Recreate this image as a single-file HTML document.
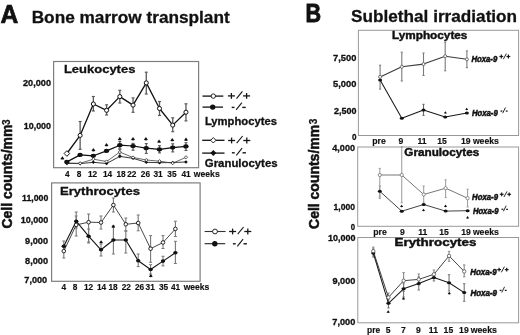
<!DOCTYPE html>
<html><head><meta charset="utf-8"><style>
html,body{margin:0;padding:0;background:#fff;width:520px;height:335px;overflow:hidden}
svg{display:block;will-change:transform}
text{font-family:"Liberation Sans", sans-serif}
</style></head><body>
<svg width="520" height="335" viewBox="0 0 520 335" font-family='"Liberation Sans", sans-serif'>
<rect width="520" height="335" fill="#fff"/>
<text x="0.6" y="22.7" font-size="25" font-weight="bold" text-anchor="start" fill="#111" stroke="#111" stroke-width="0.7" textLength="17.8" lengthAdjust="spacingAndGlyphs">A</text>
<text x="31.7" y="22.6" font-size="17.2" font-weight="bold" text-anchor="start" fill="#111" stroke="#111" stroke-width="0.3" textLength="198.0" lengthAdjust="spacingAndGlyphs">Bone marrow transplant</text>
<text x="305.6" y="21.8" font-size="25.4" font-weight="bold" text-anchor="start" fill="#111" stroke="#111" stroke-width="0.9" textLength="15.6" lengthAdjust="spacingAndGlyphs">B</text>
<text x="351.1" y="22.2" font-size="17.3" font-weight="bold" text-anchor="start" fill="#111" stroke="#111" stroke-width="0.3" textLength="166.0" lengthAdjust="spacingAndGlyphs">Sublethal irradiation</text>
<text transform="translate(12.2,228.6) rotate(-90)" x="0" y="0" font-size="14.4" font-weight="bold" fill="#111" stroke="#111" stroke-width="0.5" textLength="104" lengthAdjust="spacingAndGlyphs">Cell counts/mm</text>
<text transform="translate(9.7,124.89999999999999) rotate(-90)" x="0" y="0" font-size="10" font-weight="bold" fill="#111" stroke="#111" stroke-width="0.25">3</text>
<text transform="translate(319.0,228.9) rotate(-90)" x="0" y="0" font-size="14.4" font-weight="bold" fill="#111" stroke="#111" stroke-width="0.5" textLength="104" lengthAdjust="spacingAndGlyphs">Cell counts/mm</text>
<text transform="translate(316.5,124.30000000000001) rotate(-90)" x="0" y="0" font-size="10" font-weight="bold" fill="#111" stroke="#111" stroke-width="0.25">3</text>
<rect x="53.6" y="61.5" width="145.0" height="106.19999999999999" fill="none" stroke="#7e7e7e" stroke-width="1.2"/>
<text x="63.9" y="72.8" font-size="10.7" font-weight="bold" text-anchor="start" fill="#111" stroke="#111" stroke-width="0.3" textLength="71.5" lengthAdjust="spacingAndGlyphs">Leukocytes</text>
<text x="51" y="86.0" font-size="8.6" font-weight="bold" text-anchor="end" fill="#111" stroke="#111" stroke-width="0.3" textLength="28" lengthAdjust="spacingAndGlyphs">20,000</text>
<text x="51" y="129.1" font-size="8.6" font-weight="bold" text-anchor="end" fill="#111" stroke="#111" stroke-width="0.3" textLength="27.2" lengthAdjust="spacingAndGlyphs">10,000</text>
<text x="67.2" y="177.4" font-size="8.3" font-weight="bold" text-anchor="middle" fill="#111" stroke="#111" stroke-width="0.15">4</text>
<text x="79.0" y="177.4" font-size="8.3" font-weight="bold" text-anchor="middle" fill="#111" stroke="#111" stroke-width="0.15">8</text>
<text x="92.6" y="177.4" font-size="8.3" font-weight="bold" text-anchor="middle" fill="#111" stroke="#111" stroke-width="0.15">12</text>
<text x="107.6" y="177.4" font-size="8.3" font-weight="bold" text-anchor="middle" fill="#111" stroke="#111" stroke-width="0.15">14</text>
<text x="121.1" y="177.4" font-size="8.3" font-weight="bold" text-anchor="middle" fill="#111" stroke="#111" stroke-width="0.15">18</text>
<text x="131.8" y="177.4" font-size="8.3" font-weight="bold" text-anchor="middle" fill="#111" stroke="#111" stroke-width="0.15">22</text>
<text x="145.4" y="177.4" font-size="8.3" font-weight="bold" text-anchor="middle" fill="#111" stroke="#111" stroke-width="0.15">26</text>
<text x="158.0" y="177.4" font-size="8.3" font-weight="bold" text-anchor="middle" fill="#111" stroke="#111" stroke-width="0.15">31</text>
<text x="171.9" y="177.4" font-size="8.3" font-weight="bold" text-anchor="middle" fill="#111" stroke="#111" stroke-width="0.15">35</text>
<text x="186.0" y="177.4" font-size="8.3" font-weight="bold" text-anchor="middle" fill="#111" stroke="#111" stroke-width="0.15">41</text>
<text x="193.8" y="177.4" font-size="8.3" font-weight="bold" text-anchor="start" fill="#111" stroke="#111" stroke-width="0.15" textLength="25.9" lengthAdjust="spacingAndGlyphs">weeks</text>
<line x1="80.13" y1="121.50" x2="80.13" y2="149.30" stroke="#5a5a5a" stroke-width="1.3"/>
<line x1="78.63" y1="121.50" x2="81.63" y2="121.50" stroke="#5a5a5a" stroke-width="1.1700000000000002"/>
<line x1="78.63" y1="149.30" x2="81.63" y2="149.30" stroke="#5a5a5a" stroke-width="1.1700000000000002"/>
<line x1="93.36" y1="96.50" x2="93.36" y2="111.00" stroke="#5a5a5a" stroke-width="1.3"/>
<line x1="91.86" y1="96.50" x2="94.86" y2="96.50" stroke="#5a5a5a" stroke-width="1.1700000000000002"/>
<line x1="91.86" y1="111.00" x2="94.86" y2="111.00" stroke="#5a5a5a" stroke-width="1.1700000000000002"/>
<line x1="106.59" y1="104.80" x2="106.59" y2="115.00" stroke="#5a5a5a" stroke-width="1.3"/>
<line x1="105.09" y1="104.80" x2="108.09" y2="104.80" stroke="#5a5a5a" stroke-width="1.1700000000000002"/>
<line x1="105.09" y1="115.00" x2="108.09" y2="115.00" stroke="#5a5a5a" stroke-width="1.1700000000000002"/>
<line x1="119.82" y1="90.30" x2="119.82" y2="103.00" stroke="#5a5a5a" stroke-width="1.3"/>
<line x1="118.32" y1="90.30" x2="121.32" y2="90.30" stroke="#5a5a5a" stroke-width="1.1700000000000002"/>
<line x1="118.32" y1="103.00" x2="121.32" y2="103.00" stroke="#5a5a5a" stroke-width="1.1700000000000002"/>
<line x1="133.05" y1="97.90" x2="133.05" y2="112.30" stroke="#5a5a5a" stroke-width="1.3"/>
<line x1="131.55" y1="97.90" x2="134.55" y2="97.90" stroke="#5a5a5a" stroke-width="1.1700000000000002"/>
<line x1="131.55" y1="112.30" x2="134.55" y2="112.30" stroke="#5a5a5a" stroke-width="1.1700000000000002"/>
<line x1="146.28" y1="72.20" x2="146.28" y2="94.00" stroke="#5a5a5a" stroke-width="1.3"/>
<line x1="144.78" y1="72.20" x2="147.78" y2="72.20" stroke="#5a5a5a" stroke-width="1.1700000000000002"/>
<line x1="144.78" y1="94.00" x2="147.78" y2="94.00" stroke="#5a5a5a" stroke-width="1.1700000000000002"/>
<line x1="159.51" y1="101.50" x2="159.51" y2="115.50" stroke="#5a5a5a" stroke-width="1.3"/>
<line x1="158.01" y1="101.50" x2="161.01" y2="101.50" stroke="#5a5a5a" stroke-width="1.1700000000000002"/>
<line x1="158.01" y1="115.50" x2="161.01" y2="115.50" stroke="#5a5a5a" stroke-width="1.1700000000000002"/>
<line x1="172.74" y1="117.80" x2="172.74" y2="131.70" stroke="#5a5a5a" stroke-width="1.3"/>
<line x1="171.24" y1="117.80" x2="174.24" y2="117.80" stroke="#5a5a5a" stroke-width="1.1700000000000002"/>
<line x1="171.24" y1="131.70" x2="174.24" y2="131.70" stroke="#5a5a5a" stroke-width="1.1700000000000002"/>
<line x1="185.97" y1="103.80" x2="185.97" y2="120.90" stroke="#5a5a5a" stroke-width="1.3"/>
<line x1="184.47" y1="103.80" x2="187.47" y2="103.80" stroke="#5a5a5a" stroke-width="1.1700000000000002"/>
<line x1="184.47" y1="120.90" x2="187.47" y2="120.90" stroke="#5a5a5a" stroke-width="1.1700000000000002"/>
<line x1="119.82" y1="141.50" x2="119.82" y2="149.40" stroke="#555" stroke-width="1.2"/>
<line x1="118.32" y1="141.50" x2="121.32" y2="141.50" stroke="#555" stroke-width="1.08"/>
<line x1="118.32" y1="149.40" x2="121.32" y2="149.40" stroke="#555" stroke-width="1.08"/>
<line x1="133.05" y1="143.40" x2="133.05" y2="150.20" stroke="#555" stroke-width="1.2"/>
<line x1="131.55" y1="143.40" x2="134.55" y2="143.40" stroke="#555" stroke-width="1.08"/>
<line x1="131.55" y1="150.20" x2="134.55" y2="150.20" stroke="#555" stroke-width="1.08"/>
<line x1="146.28" y1="143.60" x2="146.28" y2="153.40" stroke="#555" stroke-width="1.2"/>
<line x1="144.78" y1="143.60" x2="147.78" y2="143.60" stroke="#555" stroke-width="1.08"/>
<line x1="144.78" y1="153.40" x2="147.78" y2="153.40" stroke="#555" stroke-width="1.08"/>
<line x1="159.51" y1="145.70" x2="159.51" y2="152.90" stroke="#555" stroke-width="1.2"/>
<line x1="158.01" y1="145.70" x2="161.01" y2="145.70" stroke="#555" stroke-width="1.08"/>
<line x1="158.01" y1="152.90" x2="161.01" y2="152.90" stroke="#555" stroke-width="1.08"/>
<line x1="172.74" y1="143.80" x2="172.74" y2="151.90" stroke="#555" stroke-width="1.2"/>
<line x1="171.24" y1="143.80" x2="174.24" y2="143.80" stroke="#555" stroke-width="1.08"/>
<line x1="171.24" y1="151.90" x2="174.24" y2="151.90" stroke="#555" stroke-width="1.08"/>
<line x1="185.97" y1="142.70" x2="185.97" y2="150.50" stroke="#555" stroke-width="1.2"/>
<line x1="184.47" y1="142.70" x2="187.47" y2="142.70" stroke="#555" stroke-width="1.08"/>
<line x1="184.47" y1="150.50" x2="187.47" y2="150.50" stroke="#555" stroke-width="1.08"/>
<line x1="119.82" y1="148.60" x2="119.82" y2="155.60" stroke="#777" stroke-width="1.35"/>
<line x1="118.32" y1="148.60" x2="121.32" y2="148.60" stroke="#777" stroke-width="1.215"/>
<line x1="118.32" y1="155.60" x2="121.32" y2="155.60" stroke="#777" stroke-width="1.215"/>
<polyline points="66.90,163.40 80.13,163.60 93.36,162.30 106.59,163.50 119.82,156.40 133.05,158.30 146.28,162.30 159.51,162.70 172.74,162.50 185.97,162.00" fill="none" stroke="#222" stroke-width="0.9" stroke-linejoin="round"/>
<polyline points="66.90,163.00 80.13,163.30 93.36,159.20 106.59,161.50 119.82,152.10 133.05,157.50 146.28,160.00 159.51,161.20 172.74,163.20 185.97,157.30" fill="none" stroke="#444" stroke-width="0.8" stroke-linejoin="round"/>
<polyline points="66.90,161.90 80.13,154.90 93.36,155.80 106.59,150.90 119.82,145.20 133.05,146.00 146.28,148.20 159.51,149.40 172.74,147.60 185.97,146.40" fill="none" stroke="#111" stroke-width="1.2" stroke-linejoin="round"/>
<polyline points="66.90,153.50 80.13,135.40 93.36,104.00 106.59,110.30 119.82,96.60 133.05,105.10 146.28,82.90 159.51,108.50 172.74,125.10 185.97,112.20" fill="none" stroke="#111" stroke-width="1.3" stroke-linejoin="round"/>
<polygon points="66.90,161.60 68.70,163.40 66.90,165.20 65.10,163.40" fill="#111"/>
<polygon points="66.90,161.40 68.50,163.00 66.90,164.60 65.30,163.00" fill="#fff" stroke="#111" stroke-width="0.7"/>
<polygon points="80.13,161.80 81.93,163.60 80.13,165.40 78.33,163.60" fill="#111"/>
<polygon points="80.13,161.70 81.73,163.30 80.13,164.90 78.53,163.30" fill="#fff" stroke="#111" stroke-width="0.7"/>
<polygon points="93.36,160.50 95.16,162.30 93.36,164.10 91.56,162.30" fill="#111"/>
<polygon points="93.36,157.60 94.96,159.20 93.36,160.80 91.76,159.20" fill="#fff" stroke="#111" stroke-width="0.7"/>
<polygon points="106.59,161.70 108.39,163.50 106.59,165.30 104.79,163.50" fill="#111"/>
<polygon points="106.59,159.90 108.19,161.50 106.59,163.10 104.99,161.50" fill="#fff" stroke="#111" stroke-width="0.7"/>
<polygon points="119.82,154.60 121.62,156.40 119.82,158.20 118.02,156.40" fill="#111"/>
<polygon points="119.82,150.50 121.42,152.10 119.82,153.70 118.22,152.10" fill="#fff" stroke="#111" stroke-width="0.7"/>
<polygon points="133.05,156.50 134.85,158.30 133.05,160.10 131.25,158.30" fill="#111"/>
<polygon points="133.05,155.90 134.65,157.50 133.05,159.10 131.45,157.50" fill="#fff" stroke="#111" stroke-width="0.7"/>
<polygon points="146.28,160.50 148.08,162.30 146.28,164.10 144.48,162.30" fill="#111"/>
<polygon points="146.28,158.40 147.88,160.00 146.28,161.60 144.68,160.00" fill="#fff" stroke="#111" stroke-width="0.7"/>
<polygon points="159.51,160.90 161.31,162.70 159.51,164.50 157.71,162.70" fill="#111"/>
<polygon points="159.51,159.60 161.11,161.20 159.51,162.80 157.91,161.20" fill="#fff" stroke="#111" stroke-width="0.7"/>
<polygon points="172.74,160.70 174.54,162.50 172.74,164.30 170.94,162.50" fill="#111"/>
<polygon points="172.74,161.60 174.34,163.20 172.74,164.80 171.14,163.20" fill="#fff" stroke="#111" stroke-width="0.7"/>
<polygon points="185.97,160.20 187.77,162.00 185.97,163.80 184.17,162.00" fill="#111"/>
<polygon points="185.97,155.70 187.57,157.30 185.97,158.90 184.37,157.30" fill="#fff" stroke="#111" stroke-width="0.7"/>
<ellipse cx="66.90" cy="161.90" rx="2.7" ry="2.1" fill="#111"/>
<ellipse cx="80.13" cy="154.90" rx="2.7" ry="2.1" fill="#111"/>
<ellipse cx="93.36" cy="155.80" rx="2.7" ry="2.1" fill="#111"/>
<ellipse cx="106.59" cy="150.90" rx="2.7" ry="2.1" fill="#111"/>
<ellipse cx="119.82" cy="145.20" rx="2.7" ry="2.1" fill="#111"/>
<ellipse cx="133.05" cy="146.00" rx="2.7" ry="2.1" fill="#111"/>
<ellipse cx="146.28" cy="148.20" rx="2.7" ry="2.1" fill="#111"/>
<ellipse cx="159.51" cy="149.40" rx="2.7" ry="2.1" fill="#111"/>
<ellipse cx="172.74" cy="147.60" rx="2.7" ry="2.1" fill="#111"/>
<ellipse cx="185.97" cy="146.40" rx="2.7" ry="2.1" fill="#111"/>
<polygon points="66.90,150.70 69.70,153.50 66.90,156.30 64.10,153.50" fill="#fff" stroke="#111" stroke-width="1.0"/>
<ellipse cx="80.13" cy="135.40" rx="2.05" ry="2.05" fill="#fff" stroke="#111" stroke-width="1.0"/>
<ellipse cx="93.36" cy="104.00" rx="2.05" ry="2.05" fill="#fff" stroke="#111" stroke-width="1.0"/>
<ellipse cx="106.59" cy="110.30" rx="2.05" ry="2.05" fill="#fff" stroke="#111" stroke-width="1.0"/>
<ellipse cx="119.82" cy="96.60" rx="2.05" ry="2.05" fill="#fff" stroke="#111" stroke-width="1.0"/>
<ellipse cx="133.05" cy="105.10" rx="2.05" ry="2.05" fill="#fff" stroke="#111" stroke-width="1.0"/>
<ellipse cx="146.28" cy="82.90" rx="2.05" ry="2.05" fill="#fff" stroke="#111" stroke-width="1.0"/>
<ellipse cx="159.51" cy="108.50" rx="2.05" ry="2.05" fill="#fff" stroke="#111" stroke-width="1.0"/>
<ellipse cx="172.74" cy="125.10" rx="2.05" ry="2.05" fill="#fff" stroke="#111" stroke-width="1.0"/>
<ellipse cx="185.97" cy="112.20" rx="2.05" ry="2.05" fill="#fff" stroke="#111" stroke-width="1.0"/>
<path d="M62.40,156.28 L64.36,159.03 Q62.40,160.19 60.45,159.03 Z" fill="#111"/>
<path d="M93.40,148.08 L95.36,150.84 Q93.40,151.99 91.45,150.84 Z" fill="#111"/>
<path d="M106.50,142.97 L108.45,145.73 Q106.50,146.88 104.55,145.73 Z" fill="#111"/>
<path d="M119.80,136.88 L121.75,139.63 Q119.80,140.78 117.84,139.63 Z" fill="#111"/>
<path d="M133.00,137.08 L134.96,139.84 Q133.00,140.99 131.04,139.84 Z" fill="#111"/>
<path d="M145.90,137.08 L147.86,139.84 Q145.90,140.99 143.94,139.84 Z" fill="#111"/>
<path d="M159.10,139.38 L161.06,142.13 Q159.10,143.28 157.14,142.13 Z" fill="#111"/>
<path d="M172.30,137.97 L174.26,140.73 Q172.30,141.88 170.34,140.73 Z" fill="#111"/>
<path d="M186.00,137.58 L187.96,140.34 Q186.00,141.49 184.04,140.34 Z" fill="#111"/>
<line x1="202.50" y1="96.10" x2="223.30" y2="96.10" stroke="#111" stroke-width="1.3"/>
<ellipse cx="213.30" cy="96.10" rx="2.2" ry="2.2" fill="#fff" stroke="#111" stroke-width="0.9"/>
<line x1="202.50" y1="107.10" x2="223.00" y2="107.10" stroke="#111" stroke-width="1.3"/>
<ellipse cx="212.70" cy="107.10" rx="2.7" ry="2.7" fill="#111"/>
<line x1="227.90" y1="95.90" x2="234.90" y2="95.90" stroke="#151515" stroke-width="1.3"/>
<line x1="231.40" y1="93.00" x2="231.40" y2="98.80" stroke="#151515" stroke-width="1.3"/>
<line x1="243.10" y1="95.90" x2="250.10" y2="95.90" stroke="#151515" stroke-width="1.3"/>
<line x1="246.60" y1="93.00" x2="246.60" y2="98.80" stroke="#151515" stroke-width="1.3"/>
<line x1="236.50" y1="98.60" x2="242.40" y2="91.40" stroke="#151515" stroke-width="1.1"/>
<line x1="231.70" y1="107.40" x2="234.50" y2="107.40" stroke="#151515" stroke-width="1.4"/>
<line x1="242.30" y1="107.40" x2="245.70" y2="107.40" stroke="#151515" stroke-width="1.4"/>
<line x1="236.10" y1="109.90" x2="241.90" y2="102.70" stroke="#151515" stroke-width="1.1"/>
<text x="204.9" y="125.0" font-size="10.8" font-weight="bold" text-anchor="start" fill="#111" stroke="#111" stroke-width="0.3" textLength="72.0" lengthAdjust="spacingAndGlyphs">Lymphocytes</text>
<line x1="202.20" y1="140.30" x2="224.50" y2="140.30" stroke="#111" stroke-width="1.3"/>
<polygon points="213.30,137.60 216.00,140.30 213.30,143.00 210.60,140.30" fill="#fff" stroke="#111" stroke-width="0.9"/>
<line x1="202.20" y1="153.10" x2="224.50" y2="153.10" stroke="#111" stroke-width="1.3"/>
<polygon points="213.30,150.10 216.30,153.10 213.30,156.10 210.30,153.10" fill="#111"/>
<line x1="228.10" y1="140.50" x2="235.10" y2="140.50" stroke="#151515" stroke-width="1.3"/>
<line x1="231.60" y1="137.60" x2="231.60" y2="143.40" stroke="#151515" stroke-width="1.3"/>
<line x1="243.30" y1="140.50" x2="250.30" y2="140.50" stroke="#151515" stroke-width="1.3"/>
<line x1="246.80" y1="137.60" x2="246.80" y2="143.40" stroke="#151515" stroke-width="1.3"/>
<line x1="236.70" y1="143.20" x2="242.60" y2="136.00" stroke="#151515" stroke-width="1.1"/>
<line x1="231.90" y1="152.80" x2="234.70" y2="152.80" stroke="#151515" stroke-width="1.4"/>
<line x1="242.50" y1="152.80" x2="245.90" y2="152.80" stroke="#151515" stroke-width="1.4"/>
<line x1="236.30" y1="155.30" x2="242.10" y2="148.10" stroke="#151515" stroke-width="1.1"/>
<text x="204.8" y="166.8" font-size="10.8" font-weight="bold" text-anchor="start" fill="#111" stroke="#111" stroke-width="0.3" textLength="72.8" lengthAdjust="spacingAndGlyphs">Granulocytes</text>
<rect x="51.6" y="182.9" width="148.5" height="98.4" fill="none" stroke="#7e7e7e" stroke-width="1.2"/>
<text x="59.9" y="194.7" font-size="10.9" font-weight="bold" text-anchor="start" fill="#111" stroke="#111" stroke-width="0.3" textLength="80.2" lengthAdjust="spacingAndGlyphs">Erythrocytes</text>
<text x="48.3" y="200.6" font-size="8.6" font-weight="bold" text-anchor="end" fill="#111" stroke="#111" stroke-width="0.3" textLength="26.3" lengthAdjust="spacingAndGlyphs">11,000</text>
<text x="48.3" y="223.2" font-size="8.6" font-weight="bold" text-anchor="end" fill="#111" stroke="#111" stroke-width="0.3" textLength="27.6" lengthAdjust="spacingAndGlyphs">10,000</text>
<text x="48.1" y="243.79999999999998" font-size="8.6" font-weight="bold" text-anchor="end" fill="#111" stroke="#111" stroke-width="0.3" textLength="23.0" lengthAdjust="spacingAndGlyphs">9,000</text>
<text x="48.1" y="264.1" font-size="8.6" font-weight="bold" text-anchor="end" fill="#111" stroke="#111" stroke-width="0.3" textLength="23.0" lengthAdjust="spacingAndGlyphs">8,000</text>
<text x="47.2" y="283.3" font-size="8.6" font-weight="bold" text-anchor="end" fill="#111" stroke="#111" stroke-width="0.3" textLength="22.9" lengthAdjust="spacingAndGlyphs">7,000</text>
<text x="63.9" y="290.1" font-size="8.3" font-weight="bold" text-anchor="middle" fill="#111" stroke="#111" stroke-width="0.15">4</text>
<text x="75.0" y="290.1" font-size="8.3" font-weight="bold" text-anchor="middle" fill="#111" stroke="#111" stroke-width="0.15">8</text>
<text x="88.5" y="290.1" font-size="8.3" font-weight="bold" text-anchor="middle" fill="#111" stroke="#111" stroke-width="0.15">12</text>
<text x="101.5" y="290.1" font-size="8.3" font-weight="bold" text-anchor="middle" fill="#111" stroke="#111" stroke-width="0.15">14</text>
<text x="113.1" y="290.1" font-size="8.3" font-weight="bold" text-anchor="middle" fill="#111" stroke="#111" stroke-width="0.15">18</text>
<text x="126.3" y="290.1" font-size="8.3" font-weight="bold" text-anchor="middle" fill="#111" stroke="#111" stroke-width="0.15">22</text>
<text x="139.6" y="290.1" font-size="8.3" font-weight="bold" text-anchor="middle" fill="#111" stroke="#111" stroke-width="0.15">26</text>
<text x="150.2" y="290.1" font-size="8.3" font-weight="bold" text-anchor="middle" fill="#111" stroke="#111" stroke-width="0.15">31</text>
<text x="163.6" y="290.1" font-size="8.3" font-weight="bold" text-anchor="middle" fill="#111" stroke="#111" stroke-width="0.15">35</text>
<text x="175.6" y="290.1" font-size="8.3" font-weight="bold" text-anchor="middle" fill="#111" stroke="#111" stroke-width="0.15">41</text>
<text x="183.7" y="290.1" font-size="8.3" font-weight="bold" text-anchor="start" fill="#111" stroke="#111" stroke-width="0.15" textLength="25.7" lengthAdjust="spacingAndGlyphs">weeks</text>
<line x1="63.80" y1="246.00" x2="63.80" y2="258.00" stroke="#777" stroke-width="1.1"/>
<line x1="62.30" y1="246.00" x2="65.30" y2="246.00" stroke="#777" stroke-width="0.9900000000000001"/>
<line x1="62.30" y1="258.00" x2="65.30" y2="258.00" stroke="#777" stroke-width="0.9900000000000001"/>
<line x1="63.80" y1="241.00" x2="63.80" y2="251.00" stroke="#777" stroke-width="1.1"/>
<line x1="62.30" y1="241.00" x2="65.30" y2="241.00" stroke="#777" stroke-width="0.9900000000000001"/>
<line x1="62.30" y1="251.00" x2="65.30" y2="251.00" stroke="#777" stroke-width="0.9900000000000001"/>
<line x1="76.20" y1="216.00" x2="76.20" y2="236.00" stroke="#777" stroke-width="1.1"/>
<line x1="74.70" y1="216.00" x2="77.70" y2="216.00" stroke="#777" stroke-width="0.9900000000000001"/>
<line x1="74.70" y1="236.00" x2="77.70" y2="236.00" stroke="#777" stroke-width="0.9900000000000001"/>
<line x1="76.20" y1="212.00" x2="76.20" y2="228.00" stroke="#777" stroke-width="1.1"/>
<line x1="74.70" y1="212.00" x2="77.70" y2="212.00" stroke="#777" stroke-width="0.9900000000000001"/>
<line x1="74.70" y1="228.00" x2="77.70" y2="228.00" stroke="#777" stroke-width="0.9900000000000001"/>
<line x1="88.60" y1="214.00" x2="88.60" y2="242.00" stroke="#777" stroke-width="1.1"/>
<line x1="87.10" y1="214.00" x2="90.10" y2="214.00" stroke="#777" stroke-width="0.9900000000000001"/>
<line x1="87.10" y1="242.00" x2="90.10" y2="242.00" stroke="#777" stroke-width="0.9900000000000001"/>
<line x1="88.60" y1="229.00" x2="88.60" y2="243.00" stroke="#777" stroke-width="1.1"/>
<line x1="87.10" y1="229.00" x2="90.10" y2="229.00" stroke="#777" stroke-width="0.9900000000000001"/>
<line x1="87.10" y1="243.00" x2="90.10" y2="243.00" stroke="#777" stroke-width="0.9900000000000001"/>
<line x1="101.00" y1="216.00" x2="101.00" y2="229.00" stroke="#777" stroke-width="1.1"/>
<line x1="99.50" y1="216.00" x2="102.50" y2="216.00" stroke="#777" stroke-width="0.9900000000000001"/>
<line x1="99.50" y1="229.00" x2="102.50" y2="229.00" stroke="#777" stroke-width="0.9900000000000001"/>
<line x1="101.00" y1="244.00" x2="101.00" y2="256.00" stroke="#777" stroke-width="1.1"/>
<line x1="99.50" y1="244.00" x2="102.50" y2="244.00" stroke="#777" stroke-width="0.9900000000000001"/>
<line x1="99.50" y1="256.00" x2="102.50" y2="256.00" stroke="#777" stroke-width="0.9900000000000001"/>
<line x1="113.40" y1="198.00" x2="113.40" y2="212.00" stroke="#777" stroke-width="1.1"/>
<line x1="111.90" y1="198.00" x2="114.90" y2="198.00" stroke="#777" stroke-width="0.9900000000000001"/>
<line x1="111.90" y1="212.00" x2="114.90" y2="212.00" stroke="#777" stroke-width="0.9900000000000001"/>
<line x1="113.40" y1="226.00" x2="113.40" y2="254.00" stroke="#777" stroke-width="1.1"/>
<line x1="111.90" y1="226.00" x2="114.90" y2="226.00" stroke="#777" stroke-width="0.9900000000000001"/>
<line x1="111.90" y1="254.00" x2="114.90" y2="254.00" stroke="#777" stroke-width="0.9900000000000001"/>
<line x1="125.80" y1="218.00" x2="125.80" y2="231.00" stroke="#777" stroke-width="1.1"/>
<line x1="124.30" y1="218.00" x2="127.30" y2="218.00" stroke="#777" stroke-width="0.9900000000000001"/>
<line x1="124.30" y1="231.00" x2="127.30" y2="231.00" stroke="#777" stroke-width="0.9900000000000001"/>
<line x1="125.80" y1="231.00" x2="125.80" y2="253.00" stroke="#777" stroke-width="1.1"/>
<line x1="124.30" y1="231.00" x2="127.30" y2="231.00" stroke="#777" stroke-width="0.9900000000000001"/>
<line x1="124.30" y1="253.00" x2="127.30" y2="253.00" stroke="#777" stroke-width="0.9900000000000001"/>
<line x1="138.20" y1="215.00" x2="138.20" y2="230.80" stroke="#777" stroke-width="1.1"/>
<line x1="136.70" y1="215.00" x2="139.70" y2="215.00" stroke="#777" stroke-width="0.9900000000000001"/>
<line x1="136.70" y1="230.80" x2="139.70" y2="230.80" stroke="#777" stroke-width="0.9900000000000001"/>
<line x1="138.20" y1="254.00" x2="138.20" y2="266.60" stroke="#777" stroke-width="1.1"/>
<line x1="136.70" y1="254.00" x2="139.70" y2="254.00" stroke="#777" stroke-width="0.9900000000000001"/>
<line x1="136.70" y1="266.60" x2="139.70" y2="266.60" stroke="#777" stroke-width="0.9900000000000001"/>
<line x1="150.60" y1="235.60" x2="150.60" y2="262.30" stroke="#777" stroke-width="1.1"/>
<line x1="149.10" y1="235.60" x2="152.10" y2="235.60" stroke="#777" stroke-width="0.9900000000000001"/>
<line x1="149.10" y1="262.30" x2="152.10" y2="262.30" stroke="#777" stroke-width="0.9900000000000001"/>
<line x1="150.60" y1="264.70" x2="150.60" y2="274.00" stroke="#777" stroke-width="1.1"/>
<line x1="149.10" y1="264.70" x2="152.10" y2="264.70" stroke="#777" stroke-width="0.9900000000000001"/>
<line x1="149.10" y1="274.00" x2="152.10" y2="274.00" stroke="#777" stroke-width="0.9900000000000001"/>
<line x1="163.00" y1="235.60" x2="163.00" y2="248.50" stroke="#777" stroke-width="1.1"/>
<line x1="161.50" y1="235.60" x2="164.50" y2="235.60" stroke="#777" stroke-width="0.9900000000000001"/>
<line x1="161.50" y1="248.50" x2="164.50" y2="248.50" stroke="#777" stroke-width="0.9900000000000001"/>
<line x1="163.00" y1="256.30" x2="163.00" y2="265.90" stroke="#777" stroke-width="1.1"/>
<line x1="161.50" y1="256.30" x2="164.50" y2="256.30" stroke="#777" stroke-width="0.9900000000000001"/>
<line x1="161.50" y1="265.90" x2="164.50" y2="265.90" stroke="#777" stroke-width="0.9900000000000001"/>
<line x1="175.40" y1="221.20" x2="175.40" y2="236.50" stroke="#777" stroke-width="1.1"/>
<line x1="173.90" y1="221.20" x2="176.90" y2="221.20" stroke="#777" stroke-width="0.9900000000000001"/>
<line x1="173.90" y1="236.50" x2="176.90" y2="236.50" stroke="#777" stroke-width="0.9900000000000001"/>
<line x1="175.40" y1="241.30" x2="175.40" y2="263.50" stroke="#777" stroke-width="1.1"/>
<line x1="173.90" y1="241.30" x2="176.90" y2="241.30" stroke="#777" stroke-width="0.9900000000000001"/>
<line x1="173.90" y1="263.50" x2="176.90" y2="263.50" stroke="#777" stroke-width="0.9900000000000001"/>
<polyline points="63.80,246.30 76.20,221.20 88.60,236.20 101.00,249.80 113.40,240.00 125.80,240.00 138.20,260.70 150.60,269.50 163.00,261.10 175.40,252.80" fill="none" stroke="#151515" stroke-width="1.1" stroke-linejoin="round"/>
<polyline points="63.80,251.10 76.20,224.90 88.60,222.20 101.00,222.50 113.40,205.00 125.80,224.30 138.20,223.00 150.60,248.70 163.00,242.50 175.40,228.90" fill="none" stroke="#333" stroke-width="0.9" stroke-linejoin="round"/>
<ellipse cx="63.80" cy="246.30" rx="2.2" ry="1.8" fill="#111"/>
<ellipse cx="63.80" cy="251.10" rx="1.8" ry="1.8" fill="#fff" stroke="#111" stroke-width="0.9"/>
<ellipse cx="76.20" cy="221.20" rx="2.2" ry="1.8" fill="#111"/>
<ellipse cx="76.20" cy="224.90" rx="1.8" ry="1.8" fill="#fff" stroke="#111" stroke-width="0.9"/>
<ellipse cx="88.60" cy="236.20" rx="2.2" ry="1.8" fill="#111"/>
<ellipse cx="88.60" cy="222.20" rx="1.8" ry="1.8" fill="#fff" stroke="#111" stroke-width="0.9"/>
<ellipse cx="101.00" cy="249.80" rx="2.2" ry="1.8" fill="#111"/>
<ellipse cx="101.00" cy="222.50" rx="1.8" ry="1.8" fill="#fff" stroke="#111" stroke-width="0.9"/>
<ellipse cx="113.40" cy="240.00" rx="2.2" ry="1.8" fill="#111"/>
<ellipse cx="113.40" cy="205.00" rx="1.8" ry="1.8" fill="#fff" stroke="#111" stroke-width="0.9"/>
<ellipse cx="125.80" cy="240.00" rx="2.2" ry="1.8" fill="#111"/>
<ellipse cx="125.80" cy="224.30" rx="1.8" ry="1.8" fill="#fff" stroke="#111" stroke-width="0.9"/>
<ellipse cx="138.20" cy="260.70" rx="2.2" ry="1.8" fill="#111"/>
<ellipse cx="138.20" cy="223.00" rx="1.8" ry="1.8" fill="#fff" stroke="#111" stroke-width="0.9"/>
<ellipse cx="150.60" cy="269.50" rx="2.2" ry="1.8" fill="#111"/>
<ellipse cx="150.60" cy="248.70" rx="1.8" ry="1.8" fill="#fff" stroke="#111" stroke-width="0.9"/>
<ellipse cx="163.00" cy="261.10" rx="2.2" ry="1.8" fill="#111"/>
<ellipse cx="163.00" cy="242.50" rx="1.8" ry="1.8" fill="#fff" stroke="#111" stroke-width="0.9"/>
<ellipse cx="175.40" cy="252.80" rx="2.2" ry="1.8" fill="#111"/>
<ellipse cx="175.40" cy="228.90" rx="1.8" ry="1.8" fill="#fff" stroke="#111" stroke-width="0.9"/>
<path d="M101.10,240.15 L102.97,242.79 Q101.10,243.89 99.23,242.79 Z" fill="#111"/>
<path d="M113.30,224.55 L115.17,227.19 Q113.30,228.29 111.43,227.19 Z" fill="#111"/>
<path d="M150.80,273.95 L152.67,276.59 Q150.80,277.69 148.93,276.59 Z" fill="#111"/>
<line x1="204.60" y1="231.50" x2="225.60" y2="231.50" stroke="#333" stroke-width="1.1"/>
<ellipse cx="215.00" cy="231.50" rx="2.4" ry="2.4" fill="#fff" stroke="#111" stroke-width="0.9"/>
<line x1="204.60" y1="243.70" x2="225.20" y2="243.70" stroke="#222" stroke-width="1.1"/>
<ellipse cx="214.80" cy="243.70" rx="2.7" ry="2.7" fill="#111"/>
<line x1="229.10" y1="231.50" x2="236.10" y2="231.50" stroke="#151515" stroke-width="1.3"/>
<line x1="232.60" y1="228.60" x2="232.60" y2="234.40" stroke="#151515" stroke-width="1.3"/>
<line x1="244.30" y1="231.50" x2="251.30" y2="231.50" stroke="#151515" stroke-width="1.3"/>
<line x1="247.80" y1="228.60" x2="247.80" y2="234.40" stroke="#151515" stroke-width="1.3"/>
<line x1="237.70" y1="234.20" x2="243.60" y2="227.00" stroke="#151515" stroke-width="1.1"/>
<line x1="232.90" y1="243.80" x2="235.70" y2="243.80" stroke="#151515" stroke-width="1.4"/>
<line x1="243.50" y1="243.80" x2="246.90" y2="243.80" stroke="#151515" stroke-width="1.4"/>
<line x1="237.30" y1="246.30" x2="243.10" y2="239.10" stroke="#151515" stroke-width="1.1"/>
<rect x="358.4" y="30.3" width="160.20000000000005" height="105.2" fill="none" stroke="#999" stroke-width="1.0"/>
<text x="392" y="38.7" font-size="10.1" font-weight="bold" text-anchor="start" fill="#111" stroke="#111" stroke-width="0.4" textLength="75.4" lengthAdjust="spacingAndGlyphs">Lymphocytes</text>
<text x="356.4" y="60.5" font-size="8.6" font-weight="bold" text-anchor="end" fill="#111" stroke="#111" stroke-width="0.3" textLength="23.3" lengthAdjust="spacingAndGlyphs">7,500</text>
<text x="356.4" y="86.69999999999999" font-size="8.6" font-weight="bold" text-anchor="end" fill="#111" stroke="#111" stroke-width="0.3" textLength="23.3" lengthAdjust="spacingAndGlyphs">5,000</text>
<text x="356.4" y="113.89999999999999" font-size="8.6" font-weight="bold" text-anchor="end" fill="#111" stroke="#111" stroke-width="0.3" textLength="22.4" lengthAdjust="spacingAndGlyphs">2,500</text>
<text x="356.4" y="140.2" font-size="8.6" font-weight="bold" text-anchor="end" fill="#111" stroke="#111" stroke-width="0.3" textLength="4.5" lengthAdjust="spacingAndGlyphs">0</text>
<text x="379.0" y="143.6" font-size="8.6" font-weight="bold" text-anchor="middle" fill="#111" stroke="#111" stroke-width="0.15" textLength="13.6" lengthAdjust="spacingAndGlyphs">pre</text>
<text x="400.8" y="143.6" font-size="8.6" font-weight="bold" text-anchor="middle" fill="#111" stroke="#111" stroke-width="0.15">9</text>
<text x="422" y="143.6" font-size="8.6" font-weight="bold" text-anchor="middle" fill="#111" stroke="#111" stroke-width="0.15">11</text>
<text x="442.1" y="143.6" font-size="8.6" font-weight="bold" text-anchor="middle" fill="#111" stroke="#111" stroke-width="0.15">15</text>
<text x="465.8" y="143.6" font-size="8.6" font-weight="bold" text-anchor="middle" fill="#111" stroke="#111" stroke-width="0.15">19</text>
<text x="472.9" y="143.6" font-size="8.6" font-weight="bold" text-anchor="start" fill="#111" stroke="#111" stroke-width="0.15" textLength="26" lengthAdjust="spacingAndGlyphs">weeks</text>
<line x1="380.10" y1="65.20" x2="380.10" y2="89.10" stroke="#7a7a7a" stroke-width="1.1"/>
<line x1="379.00" y1="65.20" x2="381.20" y2="65.20" stroke="#7a7a7a" stroke-width="0.9900000000000001"/>
<line x1="379.00" y1="89.10" x2="381.20" y2="89.10" stroke="#7a7a7a" stroke-width="0.9900000000000001"/>
<line x1="401.80" y1="52.20" x2="401.80" y2="81.00" stroke="#7a7a7a" stroke-width="1.1"/>
<line x1="400.70" y1="52.20" x2="402.90" y2="52.20" stroke="#7a7a7a" stroke-width="0.9900000000000001"/>
<line x1="400.70" y1="81.00" x2="402.90" y2="81.00" stroke="#7a7a7a" stroke-width="0.9900000000000001"/>
<line x1="423.50" y1="53.00" x2="423.50" y2="75.50" stroke="#7a7a7a" stroke-width="1.1"/>
<line x1="422.40" y1="53.00" x2="424.60" y2="53.00" stroke="#7a7a7a" stroke-width="0.9900000000000001"/>
<line x1="422.40" y1="75.50" x2="424.60" y2="75.50" stroke="#7a7a7a" stroke-width="0.9900000000000001"/>
<line x1="445.20" y1="42.10" x2="445.20" y2="70.80" stroke="#7a7a7a" stroke-width="1.1"/>
<line x1="444.10" y1="42.10" x2="446.30" y2="42.10" stroke="#7a7a7a" stroke-width="0.9900000000000001"/>
<line x1="444.10" y1="70.80" x2="446.30" y2="70.80" stroke="#7a7a7a" stroke-width="0.9900000000000001"/>
<line x1="466.90" y1="50.90" x2="466.90" y2="67.70" stroke="#7a7a7a" stroke-width="1.1"/>
<line x1="465.80" y1="50.90" x2="468.00" y2="50.90" stroke="#7a7a7a" stroke-width="0.9900000000000001"/>
<line x1="465.80" y1="67.70" x2="468.00" y2="67.70" stroke="#7a7a7a" stroke-width="0.9900000000000001"/>
<line x1="423.50" y1="104.30" x2="423.50" y2="115.40" stroke="#666" stroke-width="1.1"/>
<line x1="422.40" y1="104.30" x2="424.60" y2="104.30" stroke="#666" stroke-width="0.9900000000000001"/>
<line x1="422.40" y1="115.40" x2="424.60" y2="115.40" stroke="#666" stroke-width="0.9900000000000001"/>
<polyline points="380.10,76.90 401.80,66.70 423.50,64.10 445.20,56.20 466.90,59.30" fill="none" stroke="#3a3a3a" stroke-width="1.1" stroke-linejoin="round"/>
<polyline points="380.10,80.10 401.80,118.20 423.50,109.90 445.20,117.00 466.90,113.10" fill="none" stroke="#1a1a1a" stroke-width="1.05" stroke-linejoin="round"/>
<ellipse cx="380.10" cy="80.10" rx="2.0" ry="1.5" fill="#111"/>
<ellipse cx="380.10" cy="76.90" rx="1.5" ry="1.5" fill="#fff" stroke="#555" stroke-width="0.8"/>
<ellipse cx="401.80" cy="118.20" rx="2.0" ry="1.5" fill="#111"/>
<ellipse cx="401.80" cy="66.70" rx="1.5" ry="1.5" fill="#fff" stroke="#555" stroke-width="0.8"/>
<ellipse cx="423.50" cy="109.90" rx="2.0" ry="1.5" fill="#111"/>
<ellipse cx="423.50" cy="64.10" rx="1.5" ry="1.5" fill="#fff" stroke="#555" stroke-width="0.8"/>
<ellipse cx="445.20" cy="117.00" rx="2.0" ry="1.5" fill="#111"/>
<ellipse cx="445.20" cy="56.20" rx="1.5" ry="1.5" fill="#fff" stroke="#555" stroke-width="0.8"/>
<ellipse cx="466.90" cy="113.10" rx="2.0" ry="1.5" fill="#111"/>
<ellipse cx="466.90" cy="59.30" rx="1.5" ry="1.5" fill="#fff" stroke="#555" stroke-width="0.8"/>
<path d="M445.40,111.32 L446.84,113.36 Q445.40,114.21 443.95,113.36 Z" fill="#111"/>
<path d="M466.70,107.72 L468.14,109.77 Q466.70,110.61 465.25,109.77 Z" fill="#111"/>
<text x="471.5" y="62.2" font-size="8.4" font-weight="bold" font-style="italic" text-anchor="start" fill="#111" stroke="#111" stroke-width="0.5" textLength="25.7" lengthAdjust="spacingAndGlyphs">Hoxa-9</text>
<line x1="499.40" y1="56.50" x2="503.20" y2="56.50" stroke="#1a1a1a" stroke-width="1.2"/>
<line x1="501.30" y1="54.60" x2="501.30" y2="58.40" stroke="#1a1a1a" stroke-width="1.2"/>
<line x1="506.50" y1="56.50" x2="510.30" y2="56.50" stroke="#1a1a1a" stroke-width="1.2"/>
<line x1="508.40" y1="54.60" x2="508.40" y2="58.40" stroke="#1a1a1a" stroke-width="1.2"/>
<line x1="503.35" y1="59.20" x2="506.35" y2="53.60" stroke="#1a1a1a" stroke-width="0.95"/>
<text x="471.9" y="116.3" font-size="8.4" font-weight="bold" font-style="italic" text-anchor="start" fill="#111" stroke="#111" stroke-width="0.5" textLength="25.8" lengthAdjust="spacingAndGlyphs">Hoxa-9</text>
<line x1="500.55" y1="111.10" x2="502.35" y2="111.10" stroke="#1a1a1a" stroke-width="1.3"/>
<line x1="505.80" y1="111.10" x2="507.60" y2="111.10" stroke="#1a1a1a" stroke-width="1.3"/>
<line x1="502.68" y1="113.20" x2="505.47" y2="107.50" stroke="#1a1a1a" stroke-width="0.95"/>
<rect x="357.7" y="147.0" width="160.90000000000003" height="79.30000000000001" fill="none" stroke="#999" stroke-width="1.0"/>
<text x="404.3" y="155.7" font-size="10.1" font-weight="bold" text-anchor="start" fill="#111" stroke="#111" stroke-width="0.4" textLength="74.9" lengthAdjust="spacingAndGlyphs">Granulocytes</text>
<text x="355" y="150.6" font-size="8.6" font-weight="bold" text-anchor="end" fill="#111" stroke="#111" stroke-width="0.3" textLength="22.7" lengthAdjust="spacingAndGlyphs">4,000</text>
<text x="355" y="210.4" font-size="8.6" font-weight="bold" text-anchor="end" fill="#111" stroke="#111" stroke-width="0.3" textLength="21.5" lengthAdjust="spacingAndGlyphs">1,000</text>
<text x="355" y="229.7" font-size="8.6" font-weight="bold" text-anchor="end" fill="#111" stroke="#111" stroke-width="0.3" textLength="4.3" lengthAdjust="spacingAndGlyphs">0</text>
<text x="380" y="235.3" font-size="8.6" font-weight="bold" text-anchor="middle" fill="#111" stroke="#111" stroke-width="0.15" textLength="13.6" lengthAdjust="spacingAndGlyphs">pre</text>
<text x="402.3" y="235.3" font-size="8.6" font-weight="bold" text-anchor="middle" fill="#111" stroke="#111" stroke-width="0.15">9</text>
<text x="422.7" y="235.3" font-size="8.6" font-weight="bold" text-anchor="middle" fill="#111" stroke="#111" stroke-width="0.15">11</text>
<text x="444" y="235.3" font-size="8.6" font-weight="bold" text-anchor="middle" fill="#111" stroke="#111" stroke-width="0.15">15</text>
<text x="466" y="235.3" font-size="8.6" font-weight="bold" text-anchor="middle" fill="#111" stroke="#111" stroke-width="0.15">19</text>
<text x="472.9" y="235.3" font-size="8.6" font-weight="bold" text-anchor="start" fill="#111" stroke="#111" stroke-width="0.15" textLength="26" lengthAdjust="spacingAndGlyphs">weeks</text>
<line x1="379.80" y1="168.40" x2="379.80" y2="198.60" stroke="#999" stroke-width="1.0"/>
<line x1="378.70" y1="168.40" x2="380.90" y2="168.40" stroke="#999" stroke-width="0.9"/>
<line x1="378.70" y1="198.60" x2="380.90" y2="198.60" stroke="#999" stroke-width="0.9"/>
<line x1="401.75" y1="146.60" x2="401.75" y2="202.80" stroke="#999" stroke-width="1.0"/>
<line x1="400.65" y1="146.60" x2="402.85" y2="146.60" stroke="#999" stroke-width="0.9"/>
<line x1="400.65" y1="202.80" x2="402.85" y2="202.80" stroke="#999" stroke-width="0.9"/>
<line x1="423.70" y1="186.00" x2="423.70" y2="203.00" stroke="#999" stroke-width="1.0"/>
<line x1="422.60" y1="186.00" x2="424.80" y2="186.00" stroke="#999" stroke-width="0.9"/>
<line x1="422.60" y1="203.00" x2="424.80" y2="203.00" stroke="#999" stroke-width="0.9"/>
<line x1="445.65" y1="179.80" x2="445.65" y2="197.60" stroke="#999" stroke-width="1.0"/>
<line x1="444.55" y1="179.80" x2="446.75" y2="179.80" stroke="#999" stroke-width="0.9"/>
<line x1="444.55" y1="197.60" x2="446.75" y2="197.60" stroke="#999" stroke-width="0.9"/>
<line x1="467.60" y1="189.20" x2="467.60" y2="207.00" stroke="#999" stroke-width="1.0"/>
<line x1="466.50" y1="189.20" x2="468.70" y2="189.20" stroke="#999" stroke-width="0.9"/>
<line x1="466.50" y1="207.00" x2="468.70" y2="207.00" stroke="#999" stroke-width="0.9"/>
<line x1="379.80" y1="186.00" x2="379.80" y2="197.00" stroke="#999" stroke-width="1.0"/>
<line x1="378.70" y1="186.00" x2="380.90" y2="186.00" stroke="#999" stroke-width="0.9"/>
<line x1="378.70" y1="197.00" x2="380.90" y2="197.00" stroke="#999" stroke-width="0.9"/>
<polyline points="379.80,175.00 401.75,175.00 423.70,194.50 445.65,188.20 467.60,198.20" fill="none" stroke="#777" stroke-width="1.0" stroke-linejoin="round"/>
<polyline points="379.80,191.30 401.75,211.20 423.70,204.50 445.65,211.10 467.60,210.70" fill="none" stroke="#444" stroke-width="1.0" stroke-linejoin="round"/>
<ellipse cx="379.80" cy="191.30" rx="2.0" ry="1.5" fill="#111"/>
<ellipse cx="379.80" cy="175.00" rx="1.6" ry="1.6" fill="#fff" stroke="#777" stroke-width="0.8"/>
<ellipse cx="401.75" cy="211.20" rx="2.0" ry="1.5" fill="#111"/>
<ellipse cx="401.75" cy="175.00" rx="1.6" ry="1.6" fill="#fff" stroke="#777" stroke-width="0.8"/>
<ellipse cx="423.70" cy="204.50" rx="2.0" ry="1.5" fill="#111"/>
<ellipse cx="423.70" cy="194.50" rx="1.6" ry="1.6" fill="#fff" stroke="#777" stroke-width="0.8"/>
<ellipse cx="445.65" cy="211.10" rx="2.0" ry="1.5" fill="#111"/>
<ellipse cx="445.65" cy="188.20" rx="1.6" ry="1.6" fill="#fff" stroke="#777" stroke-width="0.8"/>
<ellipse cx="467.60" cy="210.70" rx="2.0" ry="1.5" fill="#111"/>
<ellipse cx="467.60" cy="198.20" rx="1.6" ry="1.6" fill="#fff" stroke="#777" stroke-width="0.8"/>
<path d="M401.60,204.65 L403.13,206.81 Q401.60,207.71 400.07,206.81 Z" fill="#111"/>
<path d="M423.50,208.65 L425.03,210.81 Q423.50,211.71 421.97,210.81 Z" fill="#111"/>
<path d="M445.50,204.55 L447.03,206.71 Q445.50,207.61 443.97,206.71 Z" fill="#111"/>
<path d="M467.60,216.05 L469.13,218.21 Q467.60,219.11 466.07,218.21 Z" fill="#111"/>
<text x="472.1" y="200.4" font-size="8.4" font-weight="bold" font-style="italic" text-anchor="start" fill="#111" stroke="#111" stroke-width="0.5" textLength="25.9" lengthAdjust="spacingAndGlyphs">Hoxa-9</text>
<line x1="499.80" y1="194.30" x2="503.60" y2="194.30" stroke="#1a1a1a" stroke-width="1.2"/>
<line x1="501.70" y1="192.40" x2="501.70" y2="196.20" stroke="#1a1a1a" stroke-width="1.2"/>
<line x1="507.30" y1="194.30" x2="511.10" y2="194.30" stroke="#1a1a1a" stroke-width="1.2"/>
<line x1="509.20" y1="192.40" x2="509.20" y2="196.20" stroke="#1a1a1a" stroke-width="1.2"/>
<line x1="503.95" y1="197.00" x2="506.95" y2="191.40" stroke="#1a1a1a" stroke-width="0.95"/>
<text x="472.9" y="214.2" font-size="8.4" font-weight="bold" font-style="italic" text-anchor="start" fill="#111" stroke="#111" stroke-width="0.5" textLength="25.6" lengthAdjust="spacingAndGlyphs">Hoxa-9</text>
<line x1="501.50" y1="209.30" x2="503.30" y2="209.30" stroke="#1a1a1a" stroke-width="1.3"/>
<line x1="506.20" y1="209.30" x2="508.00" y2="209.30" stroke="#1a1a1a" stroke-width="1.3"/>
<line x1="503.35" y1="211.40" x2="506.15" y2="205.70" stroke="#1a1a1a" stroke-width="0.95"/>
<rect x="357.8" y="237.5" width="160.8" height="85.30000000000001" fill="none" stroke="#999" stroke-width="1.0"/>
<text x="394.5" y="245.9" font-size="10.0" font-weight="bold" text-anchor="start" fill="#111" stroke="#111" stroke-width="0.4" textLength="82.0" lengthAdjust="spacingAndGlyphs">Erythrocytes</text>
<text x="355.4" y="241.4" font-size="8.6" font-weight="bold" text-anchor="end" fill="#111" stroke="#111" stroke-width="0.3" textLength="27.5" lengthAdjust="spacingAndGlyphs">10,000</text>
<text x="355.4" y="283.6" font-size="8.6" font-weight="bold" text-anchor="end" fill="#111" stroke="#111" stroke-width="0.3" textLength="23" lengthAdjust="spacingAndGlyphs">9,000</text>
<text x="355.4" y="325.40000000000003" font-size="8.6" font-weight="bold" text-anchor="end" fill="#111" stroke="#111" stroke-width="0.3" textLength="23.1" lengthAdjust="spacingAndGlyphs">7,000</text>
<text x="373.7" y="332.5" font-size="8.6" font-weight="bold" text-anchor="middle" fill="#111" stroke="#111" stroke-width="0.15" textLength="13.2" lengthAdjust="spacingAndGlyphs">pre</text>
<text x="388.2" y="332.5" font-size="8.6" font-weight="bold" text-anchor="middle" fill="#111" stroke="#111" stroke-width="0.15">5</text>
<text x="403.3" y="332.5" font-size="8.6" font-weight="bold" text-anchor="middle" fill="#111" stroke="#111" stroke-width="0.15">7</text>
<text x="418.5" y="332.5" font-size="8.6" font-weight="bold" text-anchor="middle" fill="#111" stroke="#111" stroke-width="0.15">9</text>
<text x="433.4" y="332.5" font-size="8.6" font-weight="bold" text-anchor="middle" fill="#111" stroke="#111" stroke-width="0.15">11</text>
<text x="448.4" y="332.5" font-size="8.6" font-weight="bold" text-anchor="middle" fill="#111" stroke="#111" stroke-width="0.15">15</text>
<text x="463.9" y="332.5" font-size="8.6" font-weight="bold" text-anchor="middle" fill="#111" stroke="#111" stroke-width="0.15">19</text>
<text x="470.7" y="332.5" font-size="8.6" font-weight="bold" text-anchor="start" fill="#111" stroke="#111" stroke-width="0.15" textLength="26.3" lengthAdjust="spacingAndGlyphs">weeks</text>
<line x1="373.30" y1="247.10" x2="373.30" y2="255.00" stroke="#8a8a8a" stroke-width="1.1"/>
<line x1="372.10" y1="247.10" x2="374.50" y2="247.10" stroke="#8a8a8a" stroke-width="0.9900000000000001"/>
<line x1="372.10" y1="255.00" x2="374.50" y2="255.00" stroke="#8a8a8a" stroke-width="0.9900000000000001"/>
<line x1="373.30" y1="249.00" x2="373.30" y2="257.00" stroke="#777" stroke-width="1.1"/>
<line x1="372.10" y1="249.00" x2="374.50" y2="249.00" stroke="#777" stroke-width="0.9900000000000001"/>
<line x1="372.10" y1="257.00" x2="374.50" y2="257.00" stroke="#777" stroke-width="0.9900000000000001"/>
<line x1="388.45" y1="293.00" x2="388.45" y2="301.00" stroke="#8a8a8a" stroke-width="1.1"/>
<line x1="387.25" y1="293.00" x2="389.65" y2="293.00" stroke="#8a8a8a" stroke-width="0.9900000000000001"/>
<line x1="387.25" y1="301.00" x2="389.65" y2="301.00" stroke="#8a8a8a" stroke-width="0.9900000000000001"/>
<line x1="388.45" y1="299.00" x2="388.45" y2="308.00" stroke="#777" stroke-width="1.1"/>
<line x1="387.25" y1="299.00" x2="389.65" y2="299.00" stroke="#777" stroke-width="0.9900000000000001"/>
<line x1="387.25" y1="308.00" x2="389.65" y2="308.00" stroke="#777" stroke-width="0.9900000000000001"/>
<line x1="403.60" y1="272.60" x2="403.60" y2="291.50" stroke="#8a8a8a" stroke-width="1.1"/>
<line x1="402.40" y1="272.60" x2="404.80" y2="272.60" stroke="#8a8a8a" stroke-width="0.9900000000000001"/>
<line x1="402.40" y1="291.50" x2="404.80" y2="291.50" stroke="#8a8a8a" stroke-width="0.9900000000000001"/>
<line x1="403.60" y1="283.00" x2="403.60" y2="297.00" stroke="#777" stroke-width="1.1"/>
<line x1="402.40" y1="283.00" x2="404.80" y2="283.00" stroke="#777" stroke-width="0.9900000000000001"/>
<line x1="402.40" y1="297.00" x2="404.80" y2="297.00" stroke="#777" stroke-width="0.9900000000000001"/>
<line x1="418.75" y1="274.00" x2="418.75" y2="285.00" stroke="#8a8a8a" stroke-width="1.1"/>
<line x1="417.55" y1="274.00" x2="419.95" y2="274.00" stroke="#8a8a8a" stroke-width="0.9900000000000001"/>
<line x1="417.55" y1="285.00" x2="419.95" y2="285.00" stroke="#8a8a8a" stroke-width="0.9900000000000001"/>
<line x1="418.75" y1="277.00" x2="418.75" y2="290.00" stroke="#777" stroke-width="1.1"/>
<line x1="417.55" y1="277.00" x2="419.95" y2="277.00" stroke="#777" stroke-width="0.9900000000000001"/>
<line x1="417.55" y1="290.00" x2="419.95" y2="290.00" stroke="#777" stroke-width="0.9900000000000001"/>
<line x1="433.90" y1="270.00" x2="433.90" y2="278.00" stroke="#8a8a8a" stroke-width="1.1"/>
<line x1="432.70" y1="270.00" x2="435.10" y2="270.00" stroke="#8a8a8a" stroke-width="0.9900000000000001"/>
<line x1="432.70" y1="278.00" x2="435.10" y2="278.00" stroke="#8a8a8a" stroke-width="0.9900000000000001"/>
<line x1="433.90" y1="274.00" x2="433.90" y2="281.00" stroke="#777" stroke-width="1.1"/>
<line x1="432.70" y1="274.00" x2="435.10" y2="274.00" stroke="#777" stroke-width="0.9900000000000001"/>
<line x1="432.70" y1="281.00" x2="435.10" y2="281.00" stroke="#777" stroke-width="0.9900000000000001"/>
<line x1="449.05" y1="251.40" x2="449.05" y2="261.30" stroke="#8a8a8a" stroke-width="1.1"/>
<line x1="447.85" y1="251.40" x2="450.25" y2="251.40" stroke="#8a8a8a" stroke-width="0.9900000000000001"/>
<line x1="447.85" y1="261.30" x2="450.25" y2="261.30" stroke="#8a8a8a" stroke-width="0.9900000000000001"/>
<line x1="449.05" y1="274.70" x2="449.05" y2="291.00" stroke="#777" stroke-width="1.1"/>
<line x1="447.85" y1="274.70" x2="450.25" y2="274.70" stroke="#777" stroke-width="0.9900000000000001"/>
<line x1="447.85" y1="291.00" x2="450.25" y2="291.00" stroke="#777" stroke-width="0.9900000000000001"/>
<line x1="464.20" y1="264.90" x2="464.20" y2="276.80" stroke="#8a8a8a" stroke-width="1.1"/>
<line x1="463.00" y1="264.90" x2="465.40" y2="264.90" stroke="#8a8a8a" stroke-width="0.9900000000000001"/>
<line x1="463.00" y1="276.80" x2="465.40" y2="276.80" stroke="#8a8a8a" stroke-width="0.9900000000000001"/>
<line x1="464.20" y1="283.70" x2="464.20" y2="301.30" stroke="#777" stroke-width="1.1"/>
<line x1="463.00" y1="283.70" x2="465.40" y2="283.70" stroke="#777" stroke-width="0.9900000000000001"/>
<line x1="463.00" y1="301.30" x2="465.40" y2="301.30" stroke="#777" stroke-width="0.9900000000000001"/>
<polyline points="373.30,251.10 388.45,297.40 403.60,280.70 418.75,279.40 433.90,274.30 449.05,255.90 464.20,271.40" fill="none" stroke="#444" stroke-width="1.0" stroke-linejoin="round"/>
<polyline points="373.30,253.00 388.45,303.30 403.60,288.80 418.75,283.40 433.90,277.60 449.05,282.80 464.20,292.60" fill="none" stroke="#1a1a1a" stroke-width="1.05" stroke-linejoin="round"/>
<ellipse cx="373.30" cy="253.00" rx="2.1" ry="1.5" fill="#111"/>
<ellipse cx="373.30" cy="251.10" rx="1.7" ry="1.7" fill="#fff" stroke="#555" stroke-width="0.8"/>
<ellipse cx="388.45" cy="303.30" rx="2.1" ry="1.5" fill="#111"/>
<ellipse cx="388.45" cy="297.40" rx="1.7" ry="1.7" fill="#fff" stroke="#555" stroke-width="0.8"/>
<ellipse cx="403.60" cy="288.80" rx="2.1" ry="1.5" fill="#111"/>
<ellipse cx="403.60" cy="280.70" rx="1.7" ry="1.7" fill="#fff" stroke="#555" stroke-width="0.8"/>
<ellipse cx="418.75" cy="283.40" rx="2.1" ry="1.5" fill="#111"/>
<ellipse cx="418.75" cy="279.40" rx="1.7" ry="1.7" fill="#fff" stroke="#555" stroke-width="0.8"/>
<ellipse cx="433.90" cy="277.60" rx="2.1" ry="1.5" fill="#111"/>
<ellipse cx="433.90" cy="274.30" rx="1.7" ry="1.7" fill="#fff" stroke="#555" stroke-width="0.8"/>
<ellipse cx="449.05" cy="282.80" rx="2.1" ry="1.5" fill="#111"/>
<ellipse cx="449.05" cy="255.90" rx="1.7" ry="1.7" fill="#fff" stroke="#555" stroke-width="0.8"/>
<ellipse cx="464.20" cy="292.60" rx="2.1" ry="1.5" fill="#111"/>
<ellipse cx="464.20" cy="271.40" rx="1.7" ry="1.7" fill="#fff" stroke="#555" stroke-width="0.8"/>
<path d="M388.20,310.18 L389.81,312.46 Q388.20,313.41 386.58,312.46 Z" fill="#111"/>
<path d="M403.50,296.97 L405.12,299.25 Q403.50,300.20 401.88,299.25 Z" fill="#111"/>
<path d="M449.30,291.77 L450.92,294.06 Q449.30,295.00 447.69,294.06 Z" fill="#111"/>
<text x="470.2" y="274.9" font-size="8.4" font-weight="bold" font-style="italic" text-anchor="start" fill="#111" stroke="#111" stroke-width="0.5" textLength="26.5" lengthAdjust="spacingAndGlyphs">Hoxa-9</text>
<line x1="497.20" y1="269.60" x2="501.00" y2="269.60" stroke="#1a1a1a" stroke-width="1.2"/>
<line x1="499.10" y1="267.70" x2="499.10" y2="271.50" stroke="#1a1a1a" stroke-width="1.2"/>
<line x1="504.80" y1="269.60" x2="508.60" y2="269.60" stroke="#1a1a1a" stroke-width="1.2"/>
<line x1="506.70" y1="267.70" x2="506.70" y2="271.50" stroke="#1a1a1a" stroke-width="1.2"/>
<line x1="501.40" y1="272.30" x2="504.40" y2="266.70" stroke="#1a1a1a" stroke-width="0.95"/>
<text x="470.4" y="295.5" font-size="8.4" font-weight="bold" font-style="italic" text-anchor="start" fill="#111" stroke="#111" stroke-width="0.5" textLength="26.6" lengthAdjust="spacingAndGlyphs">Hoxa-9</text>
<line x1="499.70" y1="290.40" x2="501.50" y2="290.40" stroke="#1a1a1a" stroke-width="1.3"/>
<line x1="504.80" y1="290.40" x2="506.60" y2="290.40" stroke="#1a1a1a" stroke-width="1.3"/>
<line x1="501.75" y1="292.50" x2="504.55" y2="286.80" stroke="#1a1a1a" stroke-width="0.95"/>
</svg>
</body></html>
